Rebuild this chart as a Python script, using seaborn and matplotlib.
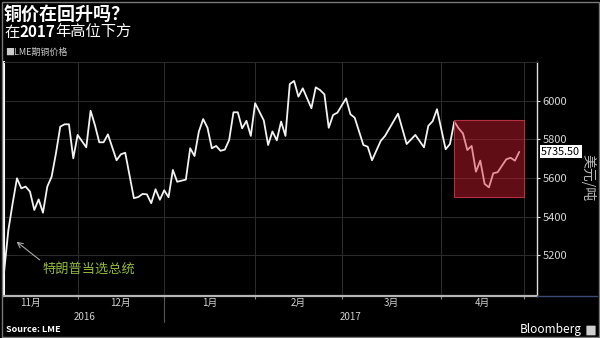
import matplotlib
matplotlib.use("Agg")
import matplotlib.pyplot as plt
import matplotlib.patches as mpatches
import matplotlib.transforms as mtransforms
from matplotlib.lines import Line2D
import seaborn as sns
import pandas as pd

# ---- data (trading-day index since 8 Nov 2016, LME copper, USD/t) ----
days = [0, 1, 2, 3, 4, 5, 6, 7, 8, 9, 10, 11, 12, 13, 14, 15, 16, 17, 19, 20,
        21, 22, 23, 24, 26, 27, 28, 30, 31, 32, 33, 34, 35, 36, 37, 38, 39, 40,
        42, 43, 44, 45, 46, 47, 48, 49, 50, 51, 52, 53, 54, 55, 56, 57, 58, 60,
        61, 62, 63, 64, 65, 66, 67, 68, 69, 71, 72, 73, 74, 75, 76, 77, 79, 80,
        81, 83, 84, 85, 87, 88, 91, 93, 95, 97, 98, 99, 100, 102, 103, 104, 105,
        106, 107, 108, 109, 110, 111, 112, 113, 114, 116, 117, 118, 119]
prices = [5110, 5330, 5470, 5599, 5547, 5556, 5530, 5435, 5490, 5421, 5556, 5607,
          5728, 5866, 5878, 5878, 5702, 5823, 5759, 5948, 5874, 5785, 5785, 5826,
          5692, 5723, 5731, 5496, 5502, 5518, 5516, 5470, 5542, 5488, 5537, 5501,
          5642, 5581, 5592, 5754, 5714, 5840, 5905, 5860, 5754, 5766, 5741, 5747,
          5797, 5940, 5940, 5857, 5896, 5818, 5987, 5898, 5771, 5841, 5795, 5892,
          5818, 6086, 6102, 6021, 6064, 5961, 6069, 6055, 6033, 5860, 5926, 5938,
          6012, 5930, 5912, 5771, 5762, 5692, 5792, 5818, 5933, 5776, 5823, 5759,
          5870, 5894, 5956, 5749, 5776, 5892, 5857, 5831, 5745, 5766, 5633, 5690,
          5570, 5552, 5625, 5630, 5697, 5705, 5690, 5735.5]

month_starts = [-5, 17, 37, 58, 78, 101, 120]   # first trading day of each month
month_labels = ["11月", "12月", "1月", "2月", "3月", "4月"]
year_labels = ["2016", "2017"]
year_break = 37
y_ticks = [5200, 5400, 5600, 5800, 6000]
highlight_days = [104, 120]
highlight_prices = [5500, 5900]
last_price = 5735.50

df = pd.DataFrame({"day": days, "price": prices})

# ---- style ----
sns.set_theme(style="dark", rc={"axes.facecolor": "black", "figure.facecolor": "black"})
plt.rcParams["font.family"] = ["Noto Sans CJK SC", "DejaVu Sans"]

W, H = 600, 338
fig = plt.figure(figsize=(6, 3.38), dpi=100)
fig.patch.set_facecolor("black")
ax_l, ax_r, ax_b, ax_t = 4 / W, 537 / W, 1 - 295.5 / H, 1 - 62 / H
ax = fig.add_axes([ax_l, ax_b, ax_r - ax_l, ax_t - ax_b])
ax.set_facecolor("black")

sns.lineplot(data=df, x="day", y="price", ax=ax, color="#f2f2f2", linewidth=1.3, zorder=3)

ax.add_patch(mpatches.Rectangle((highlight_days[0], highlight_prices[0]),
                                highlight_days[1] - highlight_days[0],
                                highlight_prices[1] - highlight_prices[0],
                                facecolor=(0.85, 0.12, 0.2, 0.45), edgecolor="#b3303f",
                                linewidth=0.8, zorder=4))

ax.set_xlim(0, 123.1)
ax.set_ylim(4993, 6200)
ax.set_xlabel("")
ax.set_ylabel("")

# y axis on right
ax.yaxis.tick_right()
ax.set_yticks(y_ticks)
ax.set_yticklabels([str(v) for v in y_ticks])
ax.tick_params(axis="y", which="major", right=True, left=False, length=2, width=0.8,
               color="#dddddd", labelcolor="#d6d6d6", labelsize=8, pad=2)

# x axis: month boundaries as major ticks, labels centred as minor
ax.set_xticks(month_starts[1:])
ax.set_xticklabels([""] * len(month_starts[1:]))
mids = [(month_starts[i] + month_starts[i + 1]) / 2 for i in range(len(month_labels))]
ax.set_xticks(mids, minor=True)
ax.set_xticklabels(month_labels, minor=True)
ax.tick_params(axis="x", which="major", bottom=True, length=2, width=0.8, color="#888888")
ax.tick_params(axis="x", which="minor", bottom=True, length=0, labelsize=7,
               labelcolor="#cfcfcf", pad=2)

ax.grid(True, which="major", color="#2c2c2c", linewidth=0.7)
ax.grid(False, which="minor")
ax.set_axisbelow(True)

for side, c, lw in [("left", "#ffffff", 1.5), ("bottom", "#b5b5b5", 1.6),
                    ("right", "#dddddd", 1.0), ("top", "#2c2c2c", 0.7)]:
    ax.spines[side].set_visible(True)
    ax.spines[side].set_color(c)
    ax.spines[side].set_linewidth(lw)

# years and separator
trans = mtransforms.blended_transform_factory(ax.transData, ax.transAxes)
x0, x1 = ax.get_xlim()
ax.text((x0 + year_break) / 2, -0.092, year_labels[0], transform=trans, ha="center",
        va="center", fontsize=7, color="#cfcfcf")
ax.text((year_break + x1) / 2, -0.092, year_labels[1], transform=trans, ha="center",
        va="center", fontsize=7, color="#cfcfcf")
ax.add_line(Line2D([year_break, year_break], [0, -0.115], transform=trans,
                   color="#555555", linewidth=0.8, clip_on=False))

# last price tag
trans_y = mtransforms.blended_transform_factory(ax.transAxes, ax.transData)
ax.annotate(f"{last_price:.2f}", xy=(1, last_price), xycoords=trans_y,
            xytext=(3, 0), textcoords="offset points", ha="left", va="center",
            fontsize=7.8, color="black", zorder=6, annotation_clip=False,
            bbox=dict(boxstyle="square,pad=0.15", fc="white", ec="none"))

# annotation
ax.annotate("特朗普当选总统", xy=(2.9, 5271), xytext=(9.0, 5130), textcoords="data",
            ha="left", va="center", fontsize=9.5, color="#8fb83a",
            arrowprops=dict(arrowstyle="->", color="#aaaaaa", lw=0.8,
                            relpos=(0, 1), shrinkA=0, shrinkB=0))

# unit label
fig.text(588 / W, 1 - 178 / H, "美元/吨", rotation=270, ha="center", va="center",
         fontsize=10, color="#bbbbbb")

# titles
fig.text(4 / W, 1 - 14 / H, "铜价在回升吗？", fontsize=13, fontweight="bold",
         color="white", va="center")
fig.canvas.draw()
r = fig.canvas.get_renderer()
xpos = 4 / W
for txt, wgt in [("在", "normal"), ("2017", "bold"), ("年高位下方", "normal")]:
    t = fig.text(xpos, 1 - 32 / H, txt, fontsize=11, fontweight=wgt, color="white",
                 va="center")
    xpos += t.get_window_extent(renderer=r).width / fig.bbox.width

fig.text(5 / W, 1 - 52 / H, "■LME期铜价格", fontsize=6.5, color="#cccccc", va="center")

# footer
fig.text(6 / W, 1 - 330 / H, "Source: LME", fontsize=6.5, fontweight="bold",
         color="white", va="center")
fig.text(582 / W, 1 - 330 / H, "Bloomberg", fontsize=8.5, color="white",
         ha="right", va="center")
fig.patches.append(mpatches.FancyBboxPatch((587 / W, 1 - 335 / H), 8 / W, 9 / H,
                                           boxstyle="round,pad=0.001",
                                           transform=fig.transFigure,
                                           fc="#cfcfcf", ec="none"))

# axis extension line and frame
fig.add_artist(Line2D([537 / W, 597 / W], [ax_b, ax_b], transform=fig.transFigure,
                      color="#3b4c70", linewidth=1))
fig.patches.append(mpatches.Rectangle((1.5 / W, 1.5 / H), 1 - 3 / W, 1 - 3 / H,
                                      transform=fig.transFigure, fill=False,
                                      ec="#777777", lw=1))

fig.savefig("out.png", dpi=100, facecolor="black")
